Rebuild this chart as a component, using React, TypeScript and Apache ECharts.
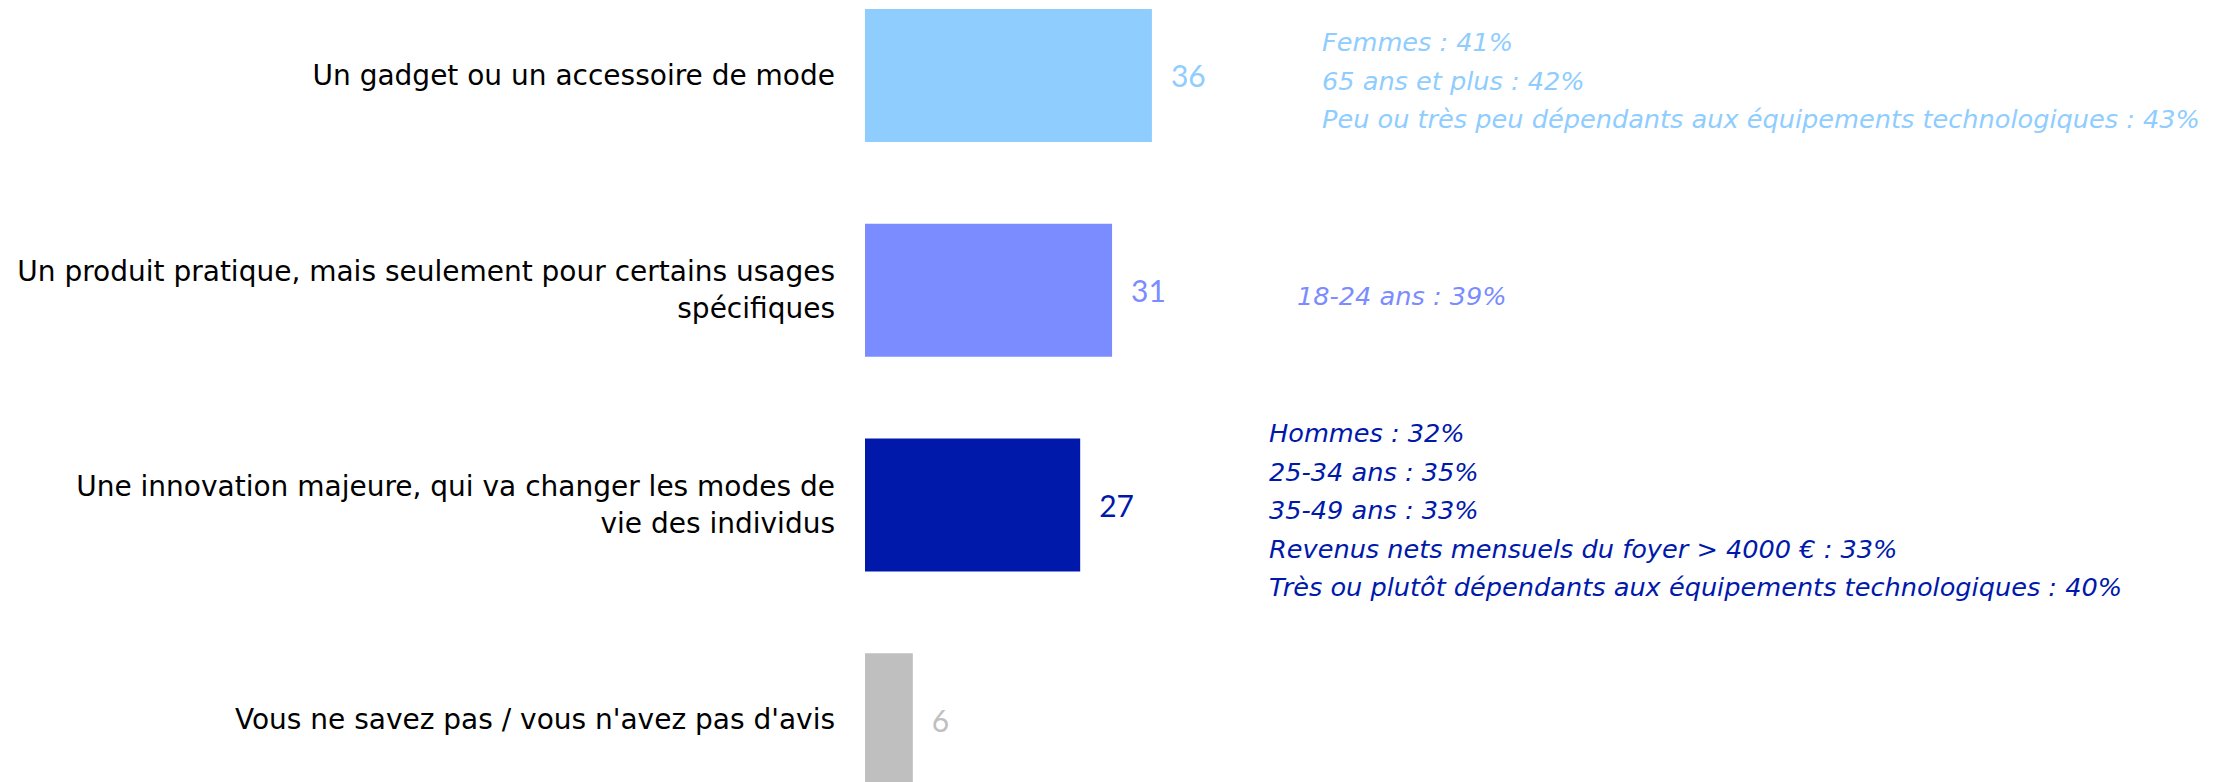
import React, { useEffect, useRef } from "react";
import * as echarts from "echarts";

const categories = [
  "Un gadget ou un accessoire de mode",
  "Un produit pratique, mais seulement pour certains usages\nspécifiques",
  "Une innovation majeure, qui va changer les modes de\nvie des individus",
  "Vous ne savez pas / vous n'avez pas d'avis",
];
const values = [36, 31, 27, 6];
const barColors = ["#8FCDFF", "#7A8CFF", "#0019AB", "#BFBFBF"];

const annotationsGadget = [
  "Femmes : 41%",
  "65 ans et plus : 42%",
  "Peu ou très peu dépendants aux équipements technologiques : 43%",
];
const annotationsPratique = ["18-24 ans : 39%"];
const annotationsInnovation = [
  "Hommes : 32%",
  "25-34 ans : 35%",
  "35-49 ans : 33%",
  "Revenus nets mensuels du foyer > 4000 € : 33%",
  "Très ou plutôt dépendants aux équipements technologiques : 40%",
];
const annotationGroups = [annotationsGadget, annotationsPratique, annotationsInnovation];

// layout: the chart canvas starts OFFSET px above the page top (the reference is cropped)
const OFFSET = 32;
const CANVAS_H = 859;
// pixel positions (page coords) of each annotation block: left x, first-line centre y
const annotationLayout = [
  { x: 1322, y: 42, color: barColors[0] },
  { x: 1297, y: 296, color: barColors[1] },
  { x: 1269, y: 433, color: barColors[2] },
];
const ANN_LINE = 38.5;
const LABEL_FONT = "DejaVu Sans";
const NUM_FONT = "Lato";

export default function App() {
  const ref = useRef<HTMLDivElement>(null);
  useEffect(() => {
    if (!ref.current) return;
    const chart = echarts.init(ref.current, undefined, { renderer: "svg" });
    const graphics: any[] = [];
    annotationGroups.forEach((lines, gi) => {
      const l = annotationLayout[gi];
      lines.forEach((t, i) => {
        graphics.push({
          type: "text",
          x: l.x,
          y: l.y + OFFSET + i * ANN_LINE,
          style: {
            text: t,
            fill: l.color,
            font: `italic 25.6px '${LABEL_FONT}'`,
            align: "left",
            verticalAlign: "middle",
          },
        });
      });
    });
    chart.setOption({
      animation: false,
      backgroundColor: "#ffffff",
      grid: { left: 865, width: 797, top: 0, bottom: 0, containLabel: false },
      xAxis: {
        type: "value",
        min: 0,
        max: 100,
        show: false,
      },
      yAxis: {
        type: "category",
        data: categories,
        inverse: true,
        axisLine: { show: false },
        axisTick: { show: false },
        splitLine: { show: false },
        axisLabel: {
          margin: 30,
          color: "#000000",
          fontFamily: LABEL_FONT,
          fontSize: 28,
          lineHeight: 37,
          align: "right",
        },
      },
      series: [
        {
          type: "bar",
          barWidth: 133,
          data: values.map((v, i) => ({ value: v, itemStyle: { color: barColors[i] } })),
          label: {
            show: true,
            position: "right",
            distance: 19,
            fontFamily: NUM_FONT,
            fontSize: 30,
            formatter: (p: any) => `${p.value}`,
            color: "inherit",
          },
        },
      ],
      graphic: graphics,
    });
    return () => chart.dispose();
  }, []);
  return (
    <div
      style={{
        position: "absolute",
        left: 0,
        top: 0,
        width: 2228,
        height: 782,
        overflow: "hidden",
        background: "#ffffff",
      }}
    >
      <div
        ref={ref}
        style={{ position: "absolute", left: 0, top: -OFFSET, width: 2228, height: CANVAS_H }}
      />
    </div>
  );
}
